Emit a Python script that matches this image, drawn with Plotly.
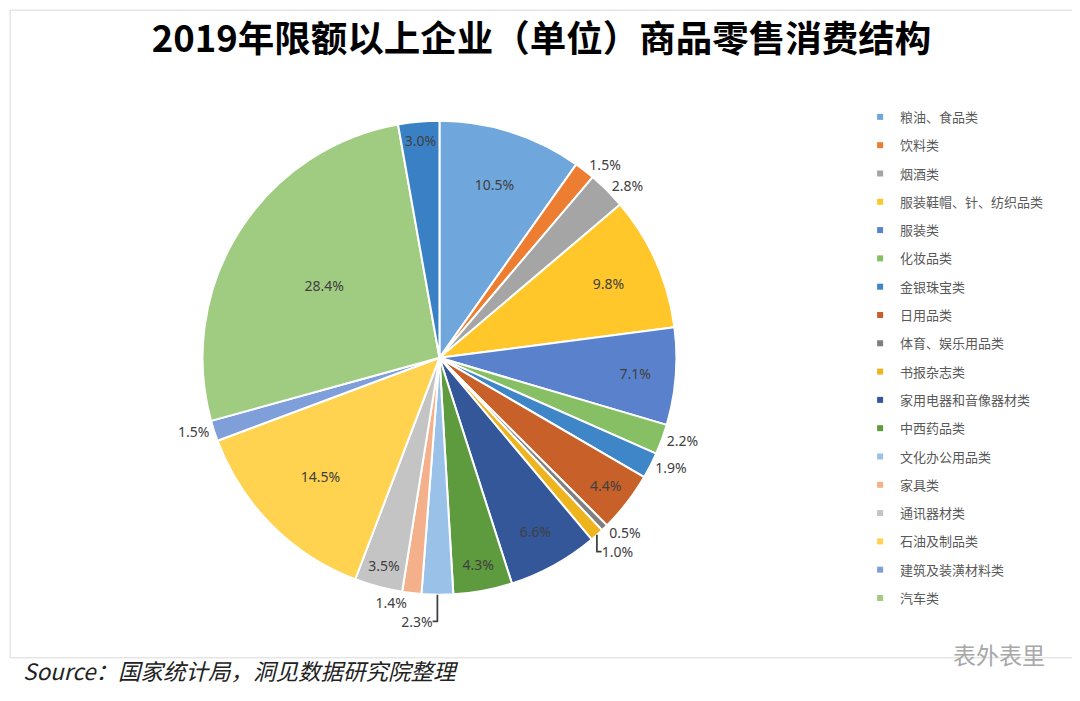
import plotly.graph_objects as go

# 商品类别（图例只列出前 18 项）
categories = ['粮油、食品类', '饮料类', '烟酒类', '服装鞋帽、针、纺织品类', '服装类',
              '化妆品类', '金银珠宝类', '日用品类', '体育、娱乐用品类', '书报杂志类',
              '家用电器和音像器材类', '中西药品类', '文化办公用品类', '家具类', '通讯器材类',
              '石油及制品类', '建筑及装潢材料类', '汽车类', '其他类']
shares = [10.5, 1.5, 2.8, 9.8, 7.1, 2.2, 1.9, 4.4, 0.5, 1.0,
          6.6, 4.3, 2.3, 1.4, 3.5, 14.5, 1.5, 28.4, 3.0]
label_pos = ['inside', 'outside', 'outside', 'inside', 'inside',
             'outside', 'outside', 'inside', 'outside', 'outside',
             'inside', 'inside', 'outside', 'outside', 'inside',
             'inside', 'outside', 'inside', 'inside']
colors = ['#6FA6DC', '#ED7D31', '#A5A5A5', '#FFC72A', '#5A82CC',
          '#86BF64', '#3F86C8', '#C8602A', '#7F7F7F', '#EDB41E',
          '#34579A', '#5E9A3E', '#9AC2E8', '#F4B08A', '#C4C4C4',
          '#FFD24F', '#7F9FDB', '#A0CC82', '#3A80C5']
n_legend = 18

fig = go.Figure()

fig.add_trace(go.Pie(
    labels=categories, values=shares,
    sort=False, direction='clockwise', rotation=0,
    marker=dict(colors=colors, line=dict(color='white', width=2)),
    texttemplate='%{value:.1f}%', textposition=label_pos,
    insidetextorientation='horizontal',
    textfont=dict(family='Noto Sans', size=14, color='#404040'),
    domain=dict(x=[0.179, 0.620], y=[0.163, 0.839]),
    showlegend=False, hoverinfo='label+value',
))

# legend built from dummy traces so the last slice stays out of it
for name, col in zip(categories[:n_legend], colors[:n_legend]):
    fig.add_trace(go.Scatter(
        x=[None], y=[None], mode='markers', name=name, legendgroup=name,
        marker=dict(symbol='square', size=6, color=col),
    ))

fig.update_layout(
    width=1080, height=701,
    paper_bgcolor='white', plot_bgcolor='white',
    margin=dict(l=0, r=0, t=0, b=0),
    xaxis=dict(visible=False), yaxis=dict(visible=False),
    title=dict(text='<b>2019年限额以上企业（单位）商品零售消费结构</b>',
               x=0.494, xanchor='center', y=0.955, yanchor='middle',
               font=dict(family='Noto Sans CJK SC', size=36.5, color='#000000')),
    legend=dict(x=0.789, y=0.866, xanchor='left', yanchor='top',
                font=dict(family='Noto Sans CJK SC', size=13, color='#595959'),
                tracegroupgap=8.4, itemwidth=30, bgcolor='rgba(0,0,0,0)'),
    uniformtext=dict(minsize=14, mode='show'),
    shapes=[dict(type='rect', xref='paper', yref='paper',
                 x0=0.002, x1=0.997, y0=0.073, y1=0.997,
                 line=dict(color='#D9D9D9', width=1))],
    annotations=[
        dict(text='<i>Source：国家统计局，洞见数据研究院整理</i>',
             xref='paper', yref='paper', x=0.012, y=0.055,
             xanchor='left', yanchor='middle', showarrow=False,
             font=dict(family='Noto Sans CJK SC', size=22.5, color='#222222')),
        dict(text='表外表里', xref='paper', yref='paper', x=0.962, y=0.078,
             xanchor='right', yanchor='middle', showarrow=False,
             font=dict(family='Noto Sans CJK SC', size=23, color='#A8A8A8')),
    ],
)

fig.write_html('out.html')
